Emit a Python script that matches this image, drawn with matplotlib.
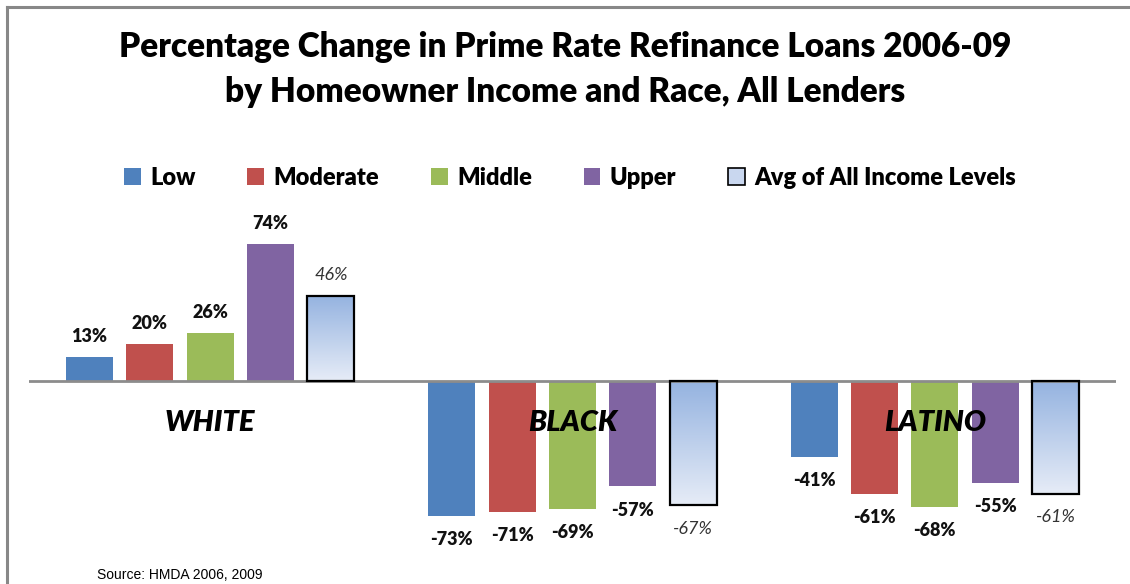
import numpy as np
import matplotlib as mpl
mpl.use('Agg')
import matplotlib.pyplot as plt
from matplotlib.patches import Rectangle
from matplotlib.colors import LinearSegmentedColormap

# data
groups = ["WHITE", "BLACK", "LATINO"]
series = ["Low", "Moderate", "Middle", "Upper", "Avg of All Income Levels"]
low = [13, -73, -41]
moderate = [20, -71, -61]
middle = [26, -69, -68]
upper = [74, -57, -55]
avg_all = [46, -67, -61]

colors = ["#4f81bd", "#c0504d", "#9bbb59", "#8064a2"]
grad = LinearSegmentedColormap.from_list("g", ["#e6ecf7", "#95b3e0"])

plt.rcParams['font.family'] = ['Lato', 'DejaVu Sans']

W, H = 1130, 584
fig = plt.figure(figsize=(W / 100, H / 100), dpi=100)

# frame line (left and top only)
fig.add_artist(plt.Line2D([6.5 / W, 6.5 / W], [0, 1 - 6.5 / H], color="#888888", lw=2.2))
fig.add_artist(plt.Line2D([6.5 / W, 1], [1 - 6.5 / H, 1 - 6.5 / H], color="#888888", lw=2.2))

ax = fig.add_axes([29 / W, (H - 547.5) / H, 1087 / W, 333 / H])
ax.set_xlim(-0.5, 2.5)
ax.set_ylim(-90, 90)
ax.axis('off')
ax.axhline(0, color="#8c8c8c", lw=2, zorder=3)

x = np.arange(len(groups))
slot = 1 / 6
bw = slot * 0.78
vals = [low, moderate, middle, upper]

for i, (v, c) in enumerate(zip(vals, colors)):
    pos = x + (i - 2) * slot
    ax.bar(pos, v, bw, color=c, zorder=2)
    for p, val in zip(pos, v):
        off = 15 if val > 0 else -17
        ax.annotate(f"{val}%", (p, val), xytext=(0, off), textcoords="offset points",
                    ha="center", va="center", fontsize=13, fontweight="heavy", color="#111111")

# average bars with gradient fill
pos = x + 2 * slot
bars = ax.bar(pos, avg_all, bw, facecolor="none", edgecolor="black", lw=1.6, zorder=4)
gradimg = np.linspace(1, 0, 100).reshape(-1, 1)
for b, val in zip(bars, avg_all):
    x0, y0 = b.get_x(), b.get_y()
    w, h = b.get_width(), b.get_height()
    lo, hi = min(y0, y0 + h), max(y0, y0 + h)
    im = ax.imshow(gradimg, cmap=grad, aspect="auto", extent=[x0, x0 + w, lo, hi], zorder=2)
    im.set_clip_path(Rectangle((x0, lo), w, hi - lo, transform=ax.transData))
    off = 15 if val > 0 else -17
    ax.annotate(f"{val}%", (x0 + w / 2, val), xytext=(0, off), textcoords="offset points",
                ha="center", va="center", fontsize=13, style="italic", color="#333333")
ax.set_xlim(-0.5, 2.5)
ax.set_ylim(-90, 90)

# group labels
for xi, g in zip(x, groups):
    ax.text(xi, -22.5, g, ha="center", va="center", fontsize=21, fontweight="heavy",
            style="italic", color="black", zorder=5)

# title
fig.text(0.5, 1 - 47 / H, "Percentage Change in Prime Rate Refinance Loans 2006-09",
         ha="center", va="center", fontsize=24, fontweight="heavy")
fig.text(0.5, 1 - 92 / H, "by Homeowner Income and Race, All Lenders",
         ha="center", va="center", fontsize=24, fontweight="heavy")

# legend
handles = [Rectangle((0, 0), 1, 1, facecolor=c, edgecolor="none") for c in colors]
handles.append(Rectangle((0, 0), 1, 1, facecolor="#c9d7ef", edgecolor="black", lw=1.2))
fig.legend(handles, series, loc="center", bbox_to_anchor=(570 / W, 1 - 178 / H), ncol=5,
           frameon=False, prop={"weight": "heavy", "size": 17}, handlelength=0.7,
           handleheight=0.7, handletextpad=0.4, columnspacing=2.2)

fig.text(97 / W, 1 - 575 / H, "Source: HMDA 2006, 2009", ha="left", va="center",
         fontsize=10, family="Liberation Sans")

fig.savefig("out.png", dpi=100)
